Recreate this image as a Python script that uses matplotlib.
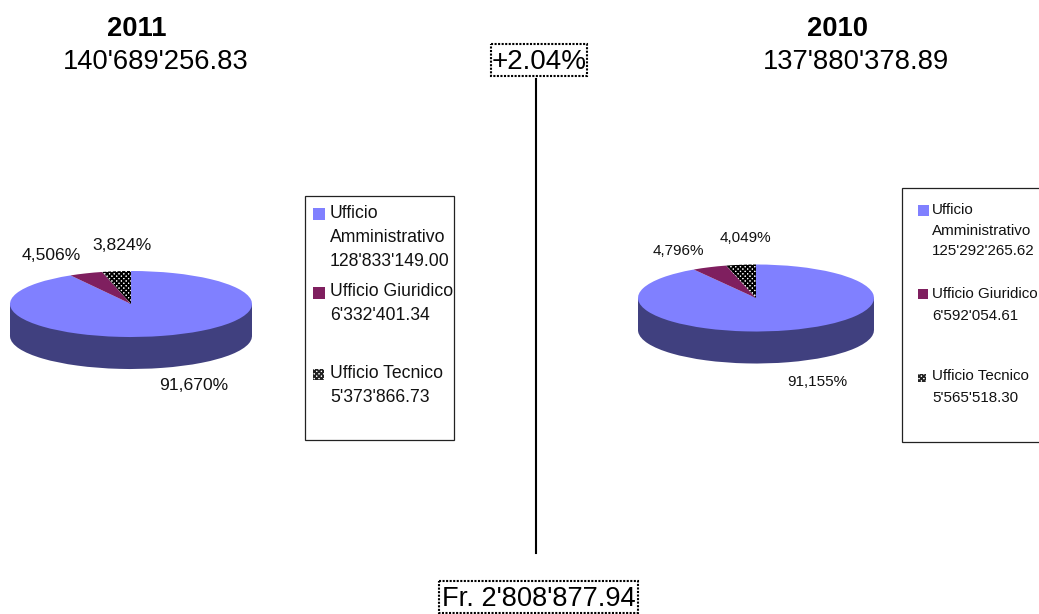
#!/usr/bin/env python3
import matplotlib
matplotlib.use("Agg")
import matplotlib.pyplot as plt
from matplotlib.patches import Rectangle

W, H = 1039, 614
plt.rcParams["font.family"] = ["Liberation Sans", "DejaVu Sans"]
plt.rcParams["hatch.linewidth"] = 1.3

values_2011 = [128833149.00, 6332401.34, 5373866.73]
values_2010 = [125292265.62, 6592054.61, 5565518.30]
pct_2011 = ["91,670%", "4,506%", "3,824%"]
pct_2010 = ["91,155%", "4,796%", "4,049%"]
legend_2011 = ["Ufficio", "Amministrativo", "128'833'149.00", "Ufficio Giuridico", "6'332'401.34", "Ufficio Tecnico", "5'373'866.73"]
legend_2010 = ["Ufficio", "Amministrativo", "125'292'265.62", "Ufficio Giuridico", "6'592'054.61", "Ufficio Tecnico", "5'565'518.30"]
totals = ["140'689'256.83", "137'880'378.89"]
years = ["2011", "2010"]
delta_pct = "+2.04%"
delta_fr = "Fr. 2'808'877.94"

BLUE, MAROON, SIDE = "#8080ff", "#7f1f5f", "#40407f"
HATCH = "xxxxxxx"


def pie3d(fig, vals, cx, cy, rx, ry, depth):
    # axes box runs from the top of the ellipse to the bottom of the side wall
    ax = fig.add_axes([(cx - rx) / W, 1 - (cy + ry + depth) / H, 2 * rx / W, (2 * ry + depth) / H])
    d = depth / ry
    ax.pie(vals, colors=[SIDE] * 3, center=(0, -d), startangle=90, counterclock=False, wedgeprops={"linewidth": 0})
    ax.add_patch(Rectangle((-1, -d), 2, d, fc=SIDE, ec="none"))
    w, _ = ax.pie(vals, colors=[BLUE, MAROON, "white"], startangle=90, counterclock=False, wedgeprops={"linewidth": 0})
    w[2].set_hatch(HATCH)
    w[2].set_edgecolor("black")
    ax.set_aspect("auto")
    ax.set_xlim(-1, 1)
    ax.set_ylim(-1 - d, 1)
    ax.axis("off")


def legend_box(ax, box, swatches, lines, ys, tx, fs):
    ax.add_patch(Rectangle(box[:2], box[2], box[3], fc="white", ec="#222222", lw=0.9))
    for (x, y, s), c, h in zip(swatches, [BLUE, MAROON, "white"], [None, None, HATCH]):
        ax.add_patch(Rectangle((x, y), s, s, fc=c, ec="#222222" if h else "none", lw=0, hatch=h))
    for t, y in zip(lines, ys):
        ax.text(tx, y, t, fontsize=fs, va="center", ha="left", color="#111111")


def dotted(ax, x0, y0, x1, y1):
    ax.add_patch(Rectangle((x0, y0), x1 - x0, y1 - y0, fc="white", ec="black", lw=1.5, ls=(0, (1, 0.7))))


def main():
    fig = plt.figure(figsize=(W / 100, H / 100), dpi=100, facecolor="white")
    ov = fig.add_axes([0, 0, 1, 1], zorder=0)
    ov.set_xlim(0, W); ov.set_ylim(H, 0); ov.axis("off")

    pie3d(fig, values_2011, 131, 304, 121, 33, 32)
    pie3d(fig, values_2010, 756, 298, 118, 33.5, 32)

    ov.text(137, 29, years[0], fontsize=19.7, fontweight="bold", ha="center", va="center")
    ov.text(156, 62, totals[0], fontsize=19.7, ha="center", va="center")
    ov.text(837, 29, years[1], fontsize=19.7, fontweight="bold", ha="center", va="center")
    ov.text(855.5, 62, totals[1], fontsize=19.7, ha="center", va="center")

    ov.plot([536, 536], [79, 553], color="black", lw=1.5)
    dotted(ov, 491, 43.5, 587, 76)
    dotted(ov, 439, 581, 638, 613)
    ov.text(539, 62, delta_pct, fontsize=20, ha="center", va="center")
    ov.text(539, 599, delta_fr, fontsize=19.6, ha="center", va="center")

    for t, x, y in zip(pct_2011, [194, 51.5, 122], [386, 256, 246]):
        ov.text(x, y, t, fontsize=12.6, ha="center", va="center", color="#111111")
    for t, x, y in zip(pct_2010, [817, 678, 745], [382, 251, 238]):
        ov.text(x, y, t, fontsize=11, ha="center", va="center", color="#111111")

    legend_box(ov, (305, 196, 149, 244), [(313, 208, 12), (313, 287, 12), (313, 369, 11)],
               legend_2011, [214, 237, 261, 292, 316, 374, 398], 330, 12.7)
    legend_box(ov, (902, 188, 140, 254), [(918, 205, 11), (918, 289, 10), (918, 374, 8)],
               legend_2010, [210, 231, 251, 294, 316, 376, 398], 932, 10.9)

    fig.savefig("out.png", dpi=100)
    plt.close(fig)


if __name__ == "__main__":
    main()
